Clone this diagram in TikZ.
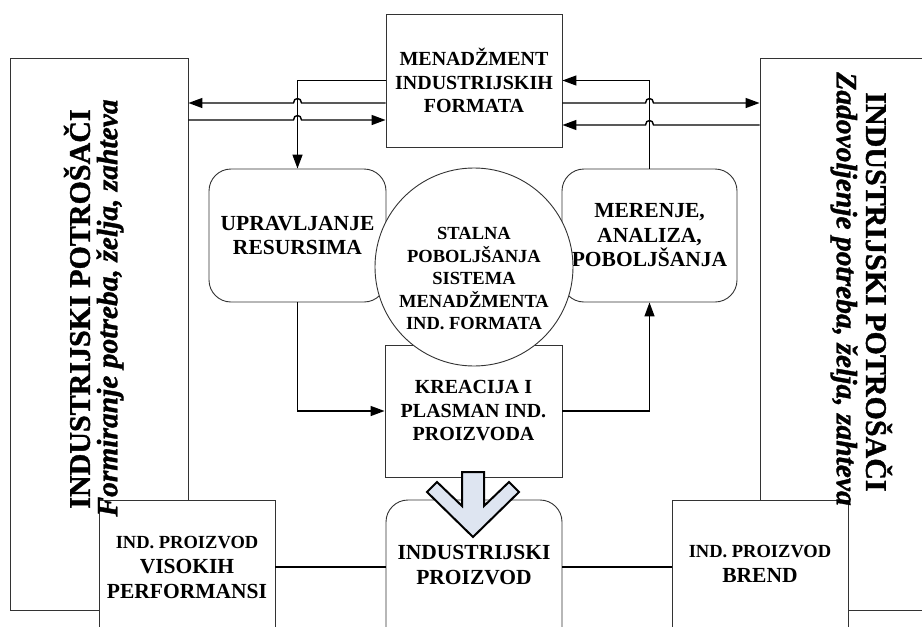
\documentclass[tikz,border=0pt]{standalone}
\usepackage{fontspec}
\setmainfont{Liberation Serif}
\newfontfamily\vfam{Liberation Serif}[BoldFeatures={FakeBold=1.2}, BoldItalicFeatures={FakeBold=1.2}]
\usetikzlibrary{arrows.meta}
\definecolor{arrowfill}{HTML}{DEE5F1}
\begin{document}
\begin{tikzpicture}[x=1pt,y=-1pt,
  box/.style={draw=black!80, line width=0.9pt, fill=white, inner sep=0pt},
  rbox/.style={box, rounded corners=22pt},
  lbl/.style={align=center, inner sep=0pt},
  fA/.style={font=\bfseries\fontsize{20}{23.5}\selectfont},
  fB/.style={font=\bfseries\fontsize{21.5}{24.5}\selectfont},
  fC/.style={font=\bfseries\fontsize{18.5}{22.5}\selectfont},
  fD/.style={font=\vfam\bfseries\fontsize{30}{33}\selectfont},
  fE/.style={font=\vfam\bfseries\itshape\fontsize{29.5}{33}\selectfont},
  fS/.style={font=\bfseries\fontsize{18.5}{25}\selectfont},
  arr/.style={line width=1.4pt, -{Triangle[length=14pt,width=10pt]}},
  ln/.style={line width=1.4pt},
]
\useasboundingbox (0,0) rectangle (922,627);
\clip (0,0) rectangle (922,627);

% big side boxes
\node[box, minimum width=178pt, minimum height=552pt] (lft) at (99,334) {};
\node[box, minimum width=190pt, minimum height=552pt] (rgt) at (855,334) {};

% central boxes
\node[box, minimum width=176pt, minimum height=133pt, lbl, fA] (mif) at (474,80.5) {MENADŽMENT\\INDUSTRIJSKIH\\FORMATA};
\node[rbox, minimum width=177pt, minimum height=133pt, lbl, fB] (upr) at (297.5,235.5) {UPRAVLJANJE\\RESURSIMA};
\node[rbox, minimum width=175pt, minimum height=133pt, lbl, fB] (mer) at (649.5,235.5) {MERENJE,\\ANALIZA,\\POBOLJŠANJA};
\node[box, minimum width=177pt, minimum height=132pt, lbl, fA] (kre) at (473.5,411) {KREACIJA I\\PLASMAN IND.\\PROIZVODA};
\node[box, circle, minimum size=198pt] (circ) at (474,267) {};
\node[lbl, fC] (ctext) at (474,279) {STALNA\\POBOLJŠANJA\\SISTEMA\\MENADŽMENTA\\IND. FORMATA};

% upper connectors
\draw[arr] (mif.west) -| (upr.north);
\draw[arr] (mif.west |- 0,103) -- (301.5,103) .. controls (301.5,97) and (293.5,97) .. (293.5,103) -- (lft.east |- 0,103);
\draw[arr] (lft.east |- 0,120) -- (293.5,120) .. controls (293.5,114) and (301.5,114) .. (301.5,120) -- (mif.west |- 0,120);
\draw[arr] (mer.north) |- (mif.east);
\draw[arr] (mif.east |- 0,103) -- (645.5,103) .. controls (645.5,97) and (653.5,97) .. (653.5,103) -- (rgt.west |- 0,103);
\draw[arr] (rgt.west |- 0,125) -- (653.5,125) .. controls (653.5,119) and (645.5,119) .. (645.5,125) -- (mif.east |- 0,125);

% lower connectors
\draw[arr] (upr.south) |- (kre.west);
\draw[arr] (kre.east) -| (mer.south);

% bottom boxes
\node[box, minimum width=176pt, minimum height=160pt] (lb) at (187,580) {};
\node[rbox, minimum width=176pt, minimum height=160pt] (cb) at (474,580) {};
\node[box, minimum width=176pt, minimum height=160pt] (rb) at (760,580) {};
\node[lbl, fS] (lbt) at (187,567) {IND. PROIZVOD\\{\fontsize{21.5}{25}\selectfont VISOKIH}\\{\fontsize{21.5}{25}\selectfont PERFORMANSI}};
\node[lbl, fB] (cbt) at (474,565) {INDUSTRIJSKI\\PROIZVOD};
\node[lbl, fS] (rbt) at (760,564) {IND. PROIZVOD\\{\fontsize{21.5}{25}\selectfont BREND}};
\draw[ln] (lb.east |- lbt) -- (cb.west |- lbt);
\draw[ln] (cb.east |- lbt) -- (rb.west |- lbt);

% block arrow
\draw[line width=2pt, line join=miter, fill=arrowfill]
  (462,472) -- (484,472) -- (484,506) -- (509,482) -- (519,492) -- (473,537)
  -- (427,492) -- (437,482) -- (462,506) -- cycle;

% vertical texts
\node[lbl, fD, rotate=90] (lt1) at (77,309) {INDUSTRIJSKI POTROŠAČI};
\node[lbl, fE, rotate=90] (lt2) at (110,308) {Formiranje potreba, želja, zahteva};
\node[lbl, fD, rotate=-90] (rt1) at (879,292) {INDUSTRIJSKI POTROŠAČI};
\node[lbl, fE, rotate=-90] (rt2) at (844,289) {Zadovoljenje potreba, želja, zahteva};
\end{tikzpicture}
\end{document}
